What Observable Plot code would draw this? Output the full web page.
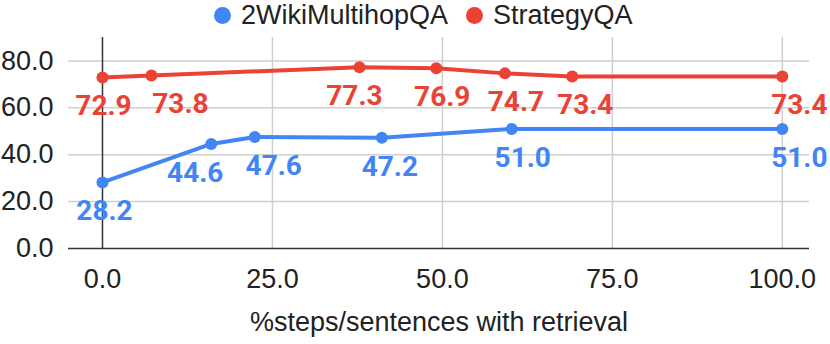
<!DOCTYPE html>
<html>
<head>
<meta charset="utf-8">
<script src="https://cdn.jsdelivr.net/npm/d3@7"></script>
<script src="https://cdn.jsdelivr.net/npm/@observablehq/plot@0.6"></script>
<style>
  html, body { margin: 0; padding: 0; background: #fff; }
  #legend { height: 30px; position: relative; font-family: "Liberation Sans", Arial, sans-serif; font-size: 27px; color: #222; }
  .item { position: absolute; top: 0; height: 30px; display: flex; align-items: center; }
  .dot { width: 17px; height: 17px; border-radius: 50%; margin-right: 10px; }
  #chart svg { display: block; }
</style>
</head>
<body>
<div id="legend"></div>
<div id="chart"></div>
<script>
// ---- data ----
const seriesNames = ["2WikiMultihopQA", "StrategyQA"];
const seriesColors = ["#4285F4", "#EA4335"];
const wikiX = [0, 16.0, 22.4, 41.1, 60.2, 100];
const wikiY = [28.2, 44.6, 47.6, 47.2, 51.0, 51.0];
const stratX = [0, 7.2, 37.8, 49.1, 59.2, 69.1, 100];
const stratY = [72.9, 73.8, 77.3, 76.9, 74.7, 73.4, 73.4];
const xTicks = [0, 25, 50, 75, 100];
const yTicks = [0, 20, 40, 60, 80];
const xTitle = "%steps/sentences with retrieval";

// label horizontal nudges (pixels), mimicking the original label placement
const wikiLabelShift = [2, -16, 19, 8, 11, 17];
const stratLabelShift = [1, 29, -5, 6, 11, 13, 17];

const wiki = wikiX.map((x, i) => ({x, y: wikiY[i]}));
const strat = stratX.map((x, i) => ({x, y: stratY[i]}));

// ---- legend ----
const legend = document.getElementById("legend");
const legendLeft = [214, 466];
seriesNames.forEach((name, i) => {
  const it = document.createElement("div");
  it.className = "item";
  it.style.left = legendLeft[i] + "px";
  it.innerHTML = `<span class="dot" style="background:${seriesColors[i]}"></span><span>${name}</span>`;
  legend.appendChild(it);
});

const fmt = d3.format(".1f");
const labelFont = {fontFamily: "Roboto", fontWeight: "bold", fontSize: 28};

function labels(data, shifts, color) {
  return data.map((d, i) => Plot.text([d], {
    x: "x", y: "y", text: d => fmt(d.y),
    fill: color, lineAnchor: "top", dy: 18, dx: shifts[i],
    ...labelFont
  }));
}

const chart = Plot.plot({
  width: 830,
  height: 314,
  marginLeft: 68,
  marginRight: 21,
  marginTop: 7,
  marginBottom: 96,
  style: {fontFamily: "Liberation Sans, Arial, sans-serif", fontSize: "27px", color: "#222"},
  x: {domain: [-5, 104]},
  y: {domain: [0, 90]},
  marks: [
    Plot.gridX(xTicks.filter(t => t !== 0), {stroke: "#cfcfcf", strokeOpacity: 1, strokeWidth: 1.5}),
    Plot.gridY(yTicks.filter(t => t !== 0), {stroke: "#cfcfcf", strokeOpacity: 1, strokeWidth: 1.5}),
    Plot.ruleX([0], {stroke: "#333", strokeWidth: 1.5}),
    Plot.ruleY([0], {stroke: "#333", strokeWidth: 1.5}),
    Plot.axisX({ticks: xTicks, tickFormat: fmt, tickSize: 0, tickPadding: 20, label: null, fontSize: 27, fill: "#222"}),
    Plot.axisY({ticks: yTicks, tickFormat: fmt, tickSize: 0, tickPadding: 15, label: null, fontSize: 27, fill: "#222"}),
    Plot.line(wiki, {x: "x", y: "y", stroke: seriesColors[0], strokeWidth: 4}),
    Plot.line(strat, {x: "x", y: "y", stroke: seriesColors[1], strokeWidth: 4}),
    Plot.dot(wiki, {x: "x", y: "y", fill: seriesColors[0], r: 6}),
    Plot.dot(strat, {x: "x", y: "y", fill: seriesColors[1], r: 6}),
    ...labels(wiki, wikiLabelShift, seriesColors[0]),
    ...labels(strat, stratLabelShift, seriesColors[1]),
    Plot.text([xTitle], {frameAnchor: "bottom", lineAnchor: "bottom", dy: 82, fontSize: 27, fill: "#222"})
  ]
});
document.getElementById("chart").appendChild(chart);
</script>
</body>
</html>
